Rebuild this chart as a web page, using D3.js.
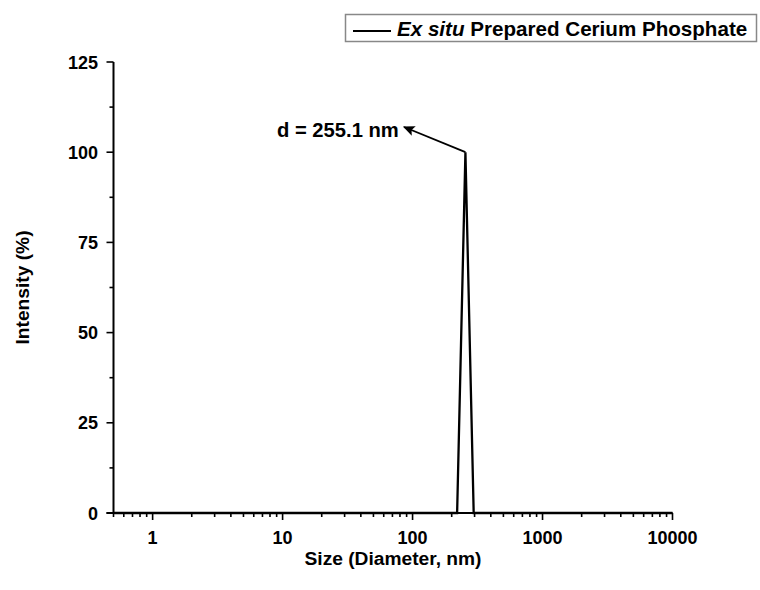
<!DOCTYPE html>
<html>
<head>
<meta charset="utf-8">
<script src="https://cdn.jsdelivr.net/npm/d3@7/dist/d3.min.js"></script>
<style>
  html, body { margin: 0; padding: 0; background: #fff; }
  svg text { font-family: Arial, "Liberation Sans", sans-serif; font-weight: bold; fill: #000; }
</style>
</head>
<body>
<svg id="chart" width="760" height="590"></svg>
<script>
// DLS size distribution (intensity-weighted)
const sizes = [0.5, 1, 10, 100, 190.1, 220.2, 255.1, 295.3, 342.0, 1000, 10000];
const intensity = [0, 0, 0, 0, 0, 0, 100, 0, 0, 0, 0];
const xTicks = [1, 10, 100, 1000, 10000];
const xTickLabels = ["1", "10", "100", "1000", "10000"];
const yTicks = [0, 25, 50, 75, 100, 125];
const peakLabel = "d = 255.1 nm";
const peakSize = 255.1;
const peakValue = 100;

const svg = d3.select("#chart");
const m = { left: 113.5, right: 672.5, top: 62, bottom: 513 };

const x = d3.scaleLog().domain([0.5, 10000]).range([m.left, m.right]);
const y = d3.scaleLinear().domain([0, 125]).range([m.bottom, m.top]);

function label(g, txt, tx, ty, size, anchor, rot) {
  return g.append("text")
    .attr("transform", `translate(${tx},${ty})` + (rot ? ` rotate(${rot})` : ""))
    .attr("text-anchor", anchor)
    .style("font-size", size + "px")
    .text(txt);
}

// minor ticks
const xMinor = [];
for (let e = -1; e <= 3; e++) for (let k = 2; k <= 9; k++) {
  const v = k * Math.pow(10, e);
  if (v >= 0.5 && v < 10000) xMinor.push(v);
}
const yMinor = d3.range(12.5, 125, 25);

const axes = svg.append("g").attr("stroke", "#000").attr("stroke-width", 1.6);
axes.selectAll(".xm").data(xMinor).join("line")
  .attr("x1", d => x(d)).attr("x2", d => x(d))
  .attr("y1", m.bottom).attr("y2", m.bottom + 4);
axes.selectAll(".xM").data(xTicks).join("line")
  .attr("x1", d => x(d)).attr("x2", d => x(d))
  .attr("y1", m.bottom).attr("y2", m.bottom + 7);
axes.selectAll(".ym").data(yMinor).join("line")
  .attr("x1", m.left - 4).attr("x2", m.left)
  .attr("y1", d => y(d)).attr("y2", d => y(d));
axes.selectAll(".yM").data(yTicks).join("line")
  .attr("x1", m.left - 7).attr("x2", m.left)
  .attr("y1", d => y(d)).attr("y2", d => y(d));
axes.append("line").attr("x1", m.left - 7).attr("x2", m.right).attr("y1", m.bottom).attr("y2", m.bottom).attr("stroke-width", 2);
axes.append("line").attr("x1", m.left).attr("x2", m.left).attr("y1", m.top).attr("y2", m.bottom).attr("stroke-width", 2);

// tick labels
const tl = svg.append("g");
xTicks.forEach((v, i) => label(tl, xTickLabels[i], x(v), 544, 18, "middle"));
yTicks.forEach(v => label(tl, String(v), 98, y(v) + 6.5, 18, "end"));

// axis titles
label(svg, "Size (Diameter, nm)", (m.left + m.right) / 2, 565, 19.2, "middle");
label(svg, "Intensity (%)", 29, (m.top + m.bottom) / 2, 19.2, "middle", -90);

// distribution curve
const line = d3.line().x((d, i) => x(sizes[i])).y(d => y(d));
svg.append("path").datum(intensity)
  .attr("d", line)
  .attr("fill", "none").attr("stroke", "#000").attr("stroke-width", 2.3);

// peak annotation with arrow
svg.append("defs").append("marker")
  .attr("id", "arrow").attr("viewBox", "0 0 10 10")
  .attr("refX", 9).attr("refY", 5)
  .attr("markerWidth", 6.5).attr("markerHeight", 6.5)
  .attr("orient", "auto")
  .append("path").attr("d", "M0,0.5 L10,5 L0,9.5 L2,5 Z").attr("fill", "#000");
svg.append("line")
  .attr("x1", x(peakSize)).attr("y1", y(peakValue))
  .attr("x2", 404).attr("y2", 127)
  .attr("stroke", "#000").attr("stroke-width", 1.8)
  .attr("marker-end", "url(#arrow)");
label(svg, peakLabel, 277, 137, 20.2, "start");

// legend
const lg = svg.append("g");
lg.append("rect").attr("x", 345.5).attr("y", 14.5).attr("width", 411).attr("height", 27)
  .attr("fill", "#fff").attr("stroke", "#888").attr("stroke-width", 1.5);
lg.append("line").attr("x1", 353).attr("x2", 391).attr("y1", 31).attr("y2", 31)
  .attr("stroke", "#000").attr("stroke-width", 2);
const lt = lg.append("text")
  .attr("transform", "translate(397,36)")
  .style("font-size", "20.6px");
lt.append("tspan").style("font-style", "italic").text("Ex situ");
lt.append("tspan").text(" Prepared Cerium Phosphate");
</script>
</body>
</html>
